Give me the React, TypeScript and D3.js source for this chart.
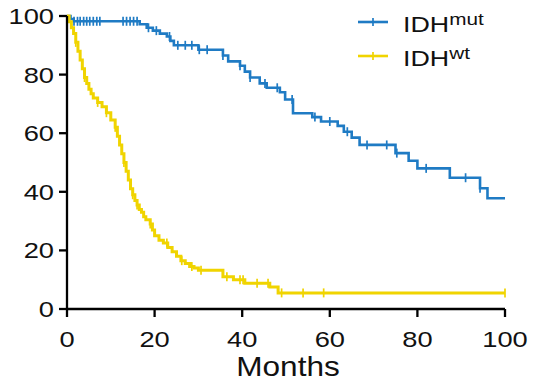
import React from 'react';
import * as d3 from 'd3';

// IDHmut step curve: time of each step (months) and survival after it (%)
const mutTimes = [0, 0.8, 1.5, 16.6, 18.2, 19.6, 21.2, 22.8, 23.6, 24.4, 30, 35.6, 36.8, 39.5, 40.6, 41.8, 44, 45.6, 48.6, 49.8, 51.6, 56, 58, 61.8, 63.2, 65, 66.8, 75, 78, 80, 87.4, 94.3, 96, 100];
const mutSurv = [100, 99, 98.2, 97.2, 96, 95, 94, 93, 91.5, 90, 88.5, 86.5, 84.5, 83, 81, 79, 77, 75.5, 74, 71.5, 66.8, 65.5, 64, 62.5, 60.5, 58.5, 56, 53.2, 50.6, 48, 44.8, 41.2, 37.8, 37.8];
const mutCensor = [1.6, 2.4, 3, 3.8, 4.5, 5.2, 6, 6.8, 7.5, 12.8, 13.6, 14.4, 15.2, 16, 18.6, 20.4, 23.4, 25.3, 27, 28.5, 30.2, 32, 35.6, 39.5, 41.8, 45.2, 48, 51.4, 56.6, 60, 64, 68.5, 73, 75.3, 82, 91, 94.3];

// IDHwt step curve
const wtTimes = [0, 0.5, 1, 1.5, 2, 2.5, 3, 3.5, 4, 4.5, 5, 5.5, 6, 7, 8, 9, 10, 11, 11.5, 12, 12.5, 13, 13.5, 14, 14.5, 15, 15.5, 16, 16.5, 17, 17.5, 18, 19, 19.5, 20, 21, 22, 23, 24, 25, 26, 27, 28, 29, 30, 35.6, 38, 40.6, 46.3, 48.2, 100];
const wtSurv = [100, 98, 96, 94, 91, 88, 85, 82, 79, 77, 75, 73.5, 72, 70.5, 69, 67, 64.5, 62, 59, 56, 53, 50, 47, 44, 41, 39, 37, 35.5, 34, 33, 31.5, 30.5, 29, 27, 25, 23.5, 22.5, 21, 19.5, 18, 16.5, 15.5, 14.5, 14, 13.2, 11, 10, 8.8, 7.5, 5.5, 5.5];
const wtCensor = [2, 4, 7, 9, 11, 13, 15, 16, 19, 22.8, 26.2, 28.5, 30.6, 36.5, 39.5, 40.2, 43.4, 45.9, 49, 53.9, 58.6, 100];

const xTicks = [0, 20, 40, 60, 80, 100];
const yTicks = [0, 20, 40, 60, 80, 100];

const BLUE = '#1f7bc4';
const YELLOW = '#f0d400';
const FONT = '"Liberation Sans", Arial, sans-serif';

export default function App() {
  const x = d3.scaleLinear().domain([0, 100]).range([67, 505]);
  const y = d3.scaleLinear().domain([0, 100]).range([309, 16]);

  const line = d3
    .line<[number, number]>()
    .x(d => x(d[0]))
    .y(d => y(d[1]))
    .curve(d3.curveStepAfter);

  const survAt = (times: number[], surv: number[], t: number) => {
    const i = d3.bisectRight(times, t) - 1;
    return surv[Math.max(0, i)];
  };

  const series = [
    { times: mutTimes, surv: mutSurv, censor: mutCensor, color: BLUE, w: 2.6 },
    { times: wtTimes, surv: wtSurv, censor: wtCensor, color: YELLOW, w: 3 },
  ];

  const legend = [
    { label: 'mut', color: BLUE, ly: 22 },
    { label: 'wt', color: YELLOW, ly: 56 },
  ];

  return (
    <svg width={533} height={382} style={{ position: 'absolute', left: 0, top: 0, background: '#fff' }} fontFamily={FONT}>
      {/* curves */}
      {series.map((s, k) => (
        <g key={k}>
          <path
            d={line(s.times.map((t, i) => [t, s.surv[i]] as [number, number])) || ''}
            fill="none"
            stroke={s.color}
            strokeWidth={s.w}
          />
          {s.censor.map((c, i) => {
            const cy = y(survAt(s.times, s.surv, c));
            return <line key={i} x1={x(c)} x2={x(c)} y1={cy - 4.5} y2={cy + 4.5} stroke={s.color} strokeWidth={1.7} />;
          })}
        </g>
      ))}

      {/* y axis */}
      <line x1={x(0)} x2={x(0)} y1={y(0)} y2={y(100)} stroke="#000" strokeWidth={2.3} />
      {yTicks.map(t => (
        <g key={t}>
          <line x1={x(0) - 8} x2={x(0)} y1={y(t)} y2={y(t)} stroke="#000" strokeWidth={2.3} />
          <text transform={`translate(${x(0) - 13},${y(t) + 8}) scale(1.24,1)`} textAnchor="end" fontSize={22} fill="#111">
            {t}
          </text>
        </g>
      ))}

      {/* x axis */}
      <line x1={x(0) - 1} x2={x(100)} y1={y(0)} y2={y(0)} stroke="#000" strokeWidth={2.3} />
      {xTicks.map(t => (
        <g key={t}>
          <line x1={x(t)} x2={x(t)} y1={y(0)} y2={y(0) + 8} stroke="#000" strokeWidth={2.3} />
          <text transform={`translate(${x(t)},${y(0) + 38}) scale(1.24,1)`} textAnchor="middle" fontSize={22} fill="#111">
            {t}
          </text>
        </g>
      ))}
      <text transform={`translate(${(x(0) + x(100)) / 2 + 2},376) scale(1.17,1)`} textAnchor="middle" fontSize={27} fill="#111">
        Months
      </text>

      {/* legend */}
      {legend.map(l => (
        <g key={l.label}>
          <line x1={358} x2={388} y1={l.ly} y2={l.ly} stroke={l.color} strokeWidth={2.6} />
          <line x1={373} x2={373} y1={l.ly - 4} y2={l.ly + 4} stroke={l.color} strokeWidth={1.7} />
          <text transform={`translate(403,${l.ly + 10}) scale(1.22,1)`} fontSize={22} fill="#111">
            IDH
            <tspan fontSize={17} dy={-7}>{l.label}</tspan>
          </text>
        </g>
      ))}
    </svg>
  );
}
